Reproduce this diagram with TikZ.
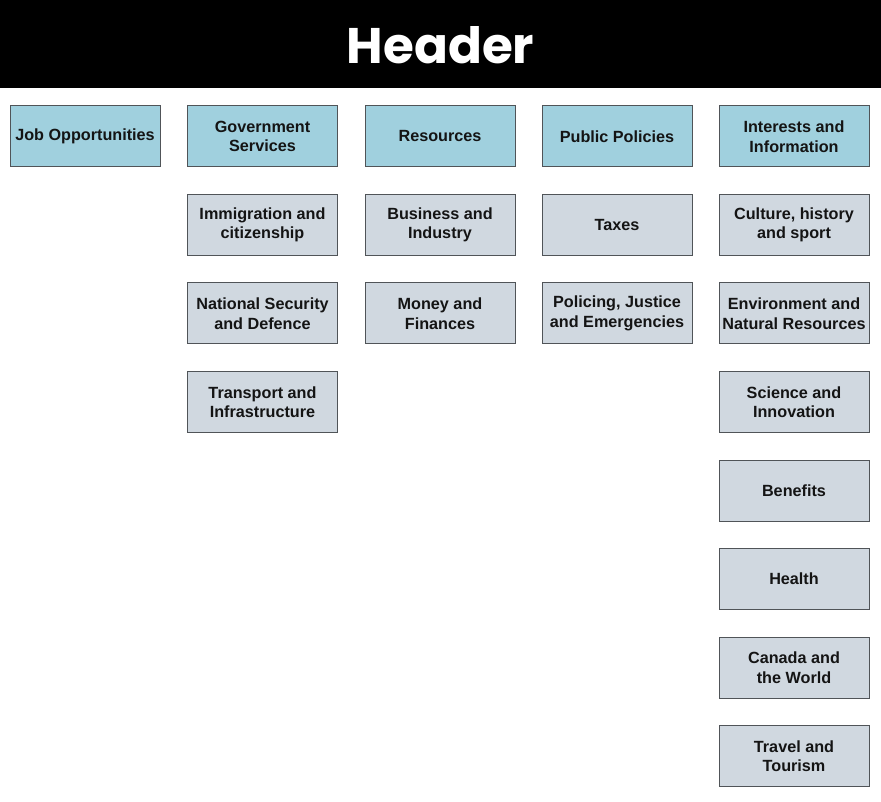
\documentclass[tikz,border=0pt]{standalone}
\usepackage{fontspec}
\setmainfont{Liberation Sans}
\newfontfamily\headfont{Poppins}
\definecolor{topblue}{HTML}{A0D0DE}
\definecolor{subgray}{HTML}{D0D8E0}
\definecolor{boxline}{HTML}{505458}
\tikzset{
  box/.style = {draw = boxline, line width = 1pt, minimum width = 150pt, minimum height = 61pt,
    inner sep = 0pt, align = center, font = \fontsize{16.2}{19.5}\selectfont\bfseries, text = black!92},
  topbox/.style = {box, fill = topblue},
  subbox/.style = {box, fill = subgray}
}
\begin{document}
\begin{tikzpicture}[x = 1pt, y = -1pt]
\useasboundingbox (0,0) rectangle (881,802);
\fill [black] (0,0) rectangle (881,88);
\node (header) at (440.5, 45) {\headfont\fontsize{50}{54}\selectfont\bfseries\color{white}Header};

% top row
\node [topbox] (jobs) at (85, 136.5) {Job Opportunities};
\node [topbox] (gov) at (262.5, 136.5) {Government\\Services};
\node [topbox] (res) at (440, 136.5) {Resources};
\node [topbox] (pol) at (617, 136.5) {Public Policies};
\node [topbox] (info) at (794, 136.5) {Interests and\\Information};

% government services
\node [subbox] (immig) at (262.5, 225) {Immigration and\\citizenship};
\node [subbox] (security) at (262.5, 313.5) {National Security\\and Defence};
\node [subbox] (transport) at (262.5, 402) {Transport and\\Infrastructure};

% resources
\node [subbox] (business) at (440, 225) {Business and\\Industry};
\node [subbox] (money) at (440, 313.5) {Money and\\Finances};

% public policies
\node [subbox] (taxes) at (617, 225) {Taxes};
\node [subbox] (justice) at (617, 313.5) {Policing, Justice\\and Emergencies};

% interests and information
\node [subbox] (culture) at (794, 225) {Culture, history\\and sport};
\node [subbox] (environment) at (794, 313.5) {Environment and\\Natural Resources};
\node [subbox] (science) at (794, 402) {Science and\\Innovation};
\node [subbox] (benefits) at (794, 490.5) {Benefits};
\node [subbox] (health) at (794, 579) {Health};
\node [subbox] (world) at (794, 667.5) {Canada and\\the World};
\node [subbox] (travel) at (794, 756) {Travel and\\Tourism};
\end{tikzpicture}
\end{document}
